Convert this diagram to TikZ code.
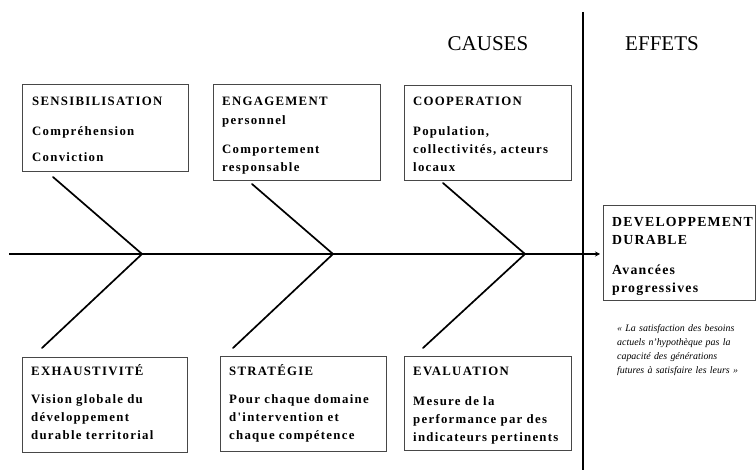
\documentclass[tikz,border=0pt]{standalone}
\usepackage{fontspec}
\setmainfont{Liberation Serif}
\newfontfamily\boxfont[LetterSpace=10]{Liberation Serif}
\newfontfamily\devfont[LetterSpace=9]{Liberation Serif}
\usetikzlibrary{arrows.meta,calc}
\begin{document}
\begin{tikzpicture}[x=1pt,y=-1pt,
  box/.style={draw=black!72,line width=1.3pt,fill=white,anchor=north west,inner sep=0pt},
  boxtxt/.style={anchor=base west,inner sep=0pt,text width=170pt,align=left,
    font=\boxfont\bfseries\fontsize{12.8}{18}\selectfont},
  devtxt/.style={anchor=base west,inner sep=0pt,text width=150pt,align=left,
    font=\devfont\bfseries\fontsize{13.8}{18}\selectfont},
  quotetxt/.style={anchor=base west,inner sep=0pt,text width=150pt,align=left,
    font=\itshape\fontsize{9.9}{14}\selectfont},
  headtxt/.style={anchor=base,inner sep=0pt,font=\fontsize{21}{24}\selectfont},
  bone/.style={line width=1.7pt,line cap=round,line join=miter},
  spine/.style={line width=1.8pt,-{Stealth[length=5pt,width=5pt]},shorten >=3pt},
  divider/.style={line width=2pt}]
\useasboundingbox (0,0) rectangle (756,470);

% headings
\node[headtxt] (causes) at (488,51) {CAUSES};
\node[headtxt] (effets) at (662,51) {EFFETS};

% divider
\coordinate (vt) at (583,12);
\coordinate (vb) at (583,470);
\draw[divider] (vt) -- (vb);

% boxes
\node[box,minimum width=166pt,minimum height=87pt] (b1) at (22,84) {};
\node[box,minimum width=167pt,minimum height=96pt] (b2) at (213,84) {};
\node[box,minimum width=167pt,minimum height=95pt] (b3) at (404,85) {};
\node[box,minimum width=165pt,minimum height=95pt] (b4) at (22,357) {};
\node[box,minimum width=166pt,minimum height=95pt] (b5) at (220,356) {};
\node[box,minimum width=167pt,minimum height=94pt] (b6) at (404,356) {};
\node[box,minimum width=152pt,minimum height=95pt] (dev) at (603,205) {};

% box texts
\node[boxtxt] (t1) at (32,106) {SENSIBILISATION\\[12pt]Compréhension\\[8pt]Conviction};
\node[boxtxt] (t2) at (222,106) {ENGAGEMENT\\[1pt]personnel\\[11pt]Comportement\\responsable};
\node[boxtxt] (t3) at (413,106) {COOPERATION\\[12pt]Population,\\collectivités, acteurs\\locaux};
\node[boxtxt] (t4) at (31,376) {EXHAUSTIVITÉ\\[10pt]Vision globale du\\développement\\durable territorial};
\node[boxtxt] (t5) at (229,376) {STRATÉGIE\\[10pt]Pour chaque domaine\\d'intervention et\\chaque compétence};
\node[boxtxt] (t6) at (413,376) {EVALUATION\\[12pt]Mesure de la\\performance par des\\indicateurs pertinents};
\node[devtxt] (t7) at (612,227) {DEVELOPPEMENT\\DURABLE\\[12pt]Avancées\\progressives};
\node[quotetxt] (q) at (617,332) {« La satisfaction des besoins\\actuels n'hypothèque pas la\\capacité des générations\\futures à satisfaire les leurs »};

% spine
\coordinate (s0) at (9,254);
\draw[spine] (s0) -- (s0 -| dev.west);

% bones
\coordinate (u1) at (53,177);
\coordinate (v1) at (142,254);
\coordinate (l1) at (42,348);
\coordinate (u2) at (252,184);
\coordinate (v2) at (333,254);
\coordinate (l2) at (233,348);
\coordinate (u3) at (443,183);
\coordinate (v3) at (525,254);
\coordinate (l3) at (423,348);
\draw[bone] (u1) -- (v1) -- (l1);
\draw[bone] (u2) -- (v2) -- (l2);
\draw[bone] (u3) -- (v3) -- (l3);
\end{tikzpicture}
\end{document}
